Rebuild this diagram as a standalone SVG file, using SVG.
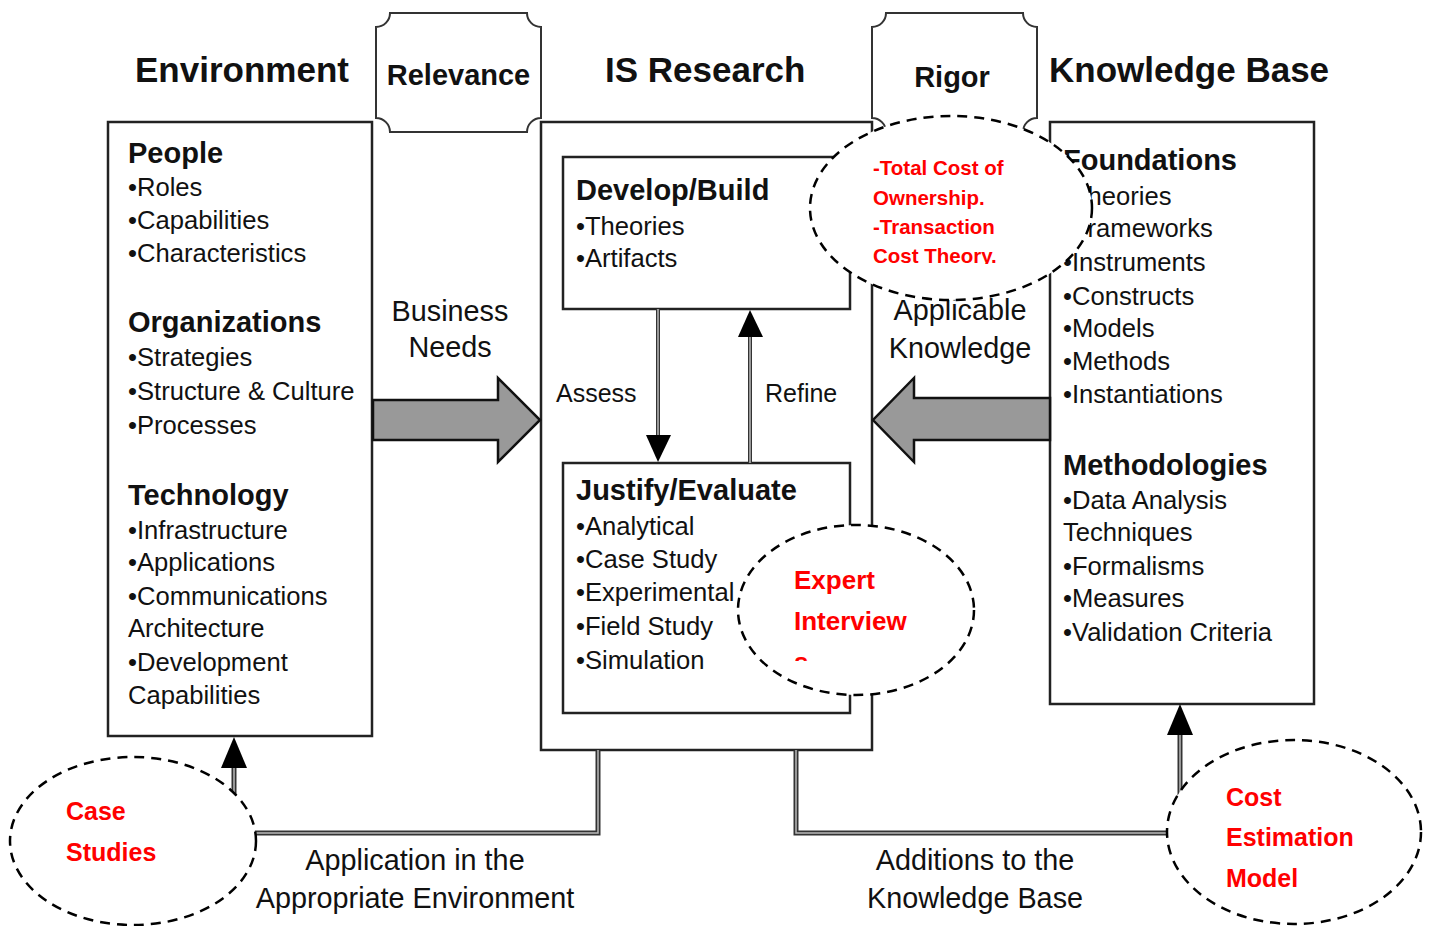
<svg xmlns="http://www.w3.org/2000/svg" width="1429" height="926" viewBox="0 0 1429 926">
<style>
text{font-family:"Liberation Sans",Arial,sans-serif;fill:#111}
.h1{font-size:35px;font-weight:bold}
.h2{font-size:29px;font-weight:bold}
.it{font-size:25.6px}
.lb{font-size:28.8px}
.lbs{font-size:25px}
.box{fill:#fff;stroke:#222;stroke-width:2.5}
.tag{fill:#fff;stroke:#333;stroke-width:2}
.big{fill:#999;stroke:#111;stroke-width:2.5;stroke-linejoin:miter}
.dbl{fill:none;stroke:#333;stroke-width:5}
.dbli{fill:none;stroke:#bbb;stroke-width:1.5}
.head{fill:#000}
.ell{fill:#fff;stroke:#000;stroke-width:2.5;stroke-dasharray:10 7}
.red{fill:#f00;font-weight:bold;font-family:"Liberation Sans",Arial,sans-serif}
</style>
<defs>
<clipPath id="c1"><rect x="860" y="140" width="200" height="124"/></clipPath>
<clipPath id="c2"><rect x="780" y="550" width="180" height="111"/></clipPath>
</defs>
<rect width="1429" height="926" fill="#fff"/>

<g id="headers">
<text class="h1" x="135" y="82">Environment</text>
<text class="h1" x="605" y="82">IS Research</text>
<text class="h1" x="1049" y="82">Knowledge Base</text>
</g>

<g id="relevance">
<path class="tag" d="M390,13 H527 A14,14 0 0 0 541,27 V118 A14,14 0 0 0 527,132 H390 A14,14 0 0 0 376,118 V27 A14,14 0 0 0 390,13 Z"/>
<text class="h2" x="458.5" y="85" text-anchor="middle">Relevance</text>
</g>
<g id="rigor">
<path class="tag" d="M886,13 H1023 A14,14 0 0 0 1037,27 V118 A14,14 0 0 0 1023,132 H886 A14,14 0 0 0 872,118 V27 A14,14 0 0 0 886,13 Z"/>
<text class="h2" x="952" y="87" text-anchor="middle">Rigor</text>
</g>

<g id="environment">
<rect class="box" x="108" y="122" width="264" height="614"/>
<text class="h2" x="128" y="163">People</text>
<text class="it" x="128" y="196">•Roles</text>
<text class="it" x="128" y="229">•Capabilities</text>
<text class="it" x="128" y="262">•Characteristics</text>
<text class="h2" x="128" y="332">Organizations</text>
<text class="it" x="128" y="366">•Strategies</text>
<text class="it" x="128" y="400">•Structure &amp; Culture</text>
<text class="it" x="128" y="434">•Processes</text>
<text class="h2" x="128" y="505">Technology</text>
<text class="it" x="128" y="539">•Infrastructure</text>
<text class="it" x="128" y="571">•Applications</text>
<text class="it" x="128" y="605">•Communications</text>
<text class="it" x="128" y="637">Architecture</text>
<text class="it" x="128" y="671">•Development</text>
<text class="it" x="128" y="704">Capabilities</text>
</g>

<g id="is-research">
<rect class="box" x="541" y="122" width="331" height="628"/>
</g>
<g id="develop-build">
<rect class="box" x="563" y="157" width="287" height="152"/>
<text class="h2" x="576" y="200">Develop/Build</text>
<text class="it" x="576" y="235">•Theories</text>
<text class="it" x="576" y="267">•Artifacts</text>
</g>
<g id="justify-evaluate">
<rect class="box" x="563" y="463" width="287" height="250"/>
<text class="h2" x="576" y="500">Justify/Evaluate</text>
<text class="it" x="576" y="535">•Analytical</text>
<text class="it" x="576" y="568">•Case Study</text>
<text class="it" x="576" y="601">•Experimental</text>
<text class="it" x="576" y="635">•Field Study</text>
<text class="it" x="576" y="669">•Simulation</text>
</g>

<g id="knowledge-base">
<rect class="box" x="1050" y="122" width="264" height="582"/>
<text class="h2" x="1063" y="170">Foundations</text>
<text class="it" x="1063" y="205">•Theories</text>
<text class="it" x="1063" y="237">•Frameworks</text>
<text class="it" x="1063" y="271">•Instruments</text>
<text class="it" x="1063" y="305">•Constructs</text>
<text class="it" x="1063" y="337">•Models</text>
<text class="it" x="1063" y="370">•Methods</text>
<text class="it" x="1063" y="403">•Instantiations</text>
<text class="h2" x="1063" y="475">Methodologies</text>
<text class="it" x="1063" y="509">•Data Analysis</text>
<text class="it" x="1063" y="541">Techniques</text>
<text class="it" x="1063" y="575">•Formalisms</text>
<text class="it" x="1063" y="607">•Measures</text>
<text class="it" x="1063" y="641">•Validation Criteria</text>
</g>

<g id="connectors">
<path class="big" d="M373,400 H498 V378 L540,420 L498,462 V440 H373 Z"/>
<path class="big" d="M1050,398 H914 V378 L873,420 L914,462 V440 H1050 Z"/>
<line class="dbl" x1="658" y1="309" x2="658" y2="437" style="stroke-width:4"/>
<line class="dbli" x1="658" y1="309" x2="658" y2="437"/>
<polygon class="head" points="646,435 671,435 658,462"/>
<line class="dbl" x1="750" y1="336" x2="750" y2="463" style="stroke-width:4"/>
<line class="dbli" x1="750" y1="336" x2="750" y2="463"/>
<polygon class="head" points="738,337 763,337 750,310"/>
<path class="dbl" d="M598,750 V833 H234 V765"/>
<path class="dbli" d="M598,750 V833 H234 V765"/>
<polygon class="head" points="221,768 247,768 234,737"/>
<path class="dbl" d="M796,750 V833 H1180 V732"/>
<path class="dbli" d="M796,750 V833 H1180 V732"/>
<polygon class="head" points="1167,735 1193,735 1180,704"/>
<text class="lb" x="450" y="321" text-anchor="middle">Business</text>
<text class="lb" x="450" y="357" text-anchor="middle">Needs</text>
<text class="lb" x="960" y="320" text-anchor="middle">Applicable</text>
<text class="lb" x="960" y="358" text-anchor="middle">Knowledge</text>
<text class="lbs" x="556" y="402">Assess</text>
<text class="lbs" x="765" y="402">Refine</text>
<text class="lb" x="415" y="870" text-anchor="middle">Application in the</text>
<text class="lb" x="415" y="908" text-anchor="middle">Appropriate Environment</text>
<text class="lb" x="975" y="870" text-anchor="middle">Additions to the</text>
<text class="lb" x="975" y="908" text-anchor="middle">Knowledge Base</text>
</g>

<g id="note-cost-theories">
<ellipse class="ell" cx="951" cy="208" rx="141" ry="92"/>
<g clip-path="url(#c1)">
<text class="red" font-size="20.5" x="873" y="175">-Total Cost of</text>
<text class="red" font-size="20.5" x="873" y="205">Ownership.</text>
<text class="red" font-size="20.5" x="873" y="234">-Transaction</text>
<text class="red" font-size="20.5" x="873" y="263">Cost Theory.</text>
</g>
</g>
<g id="note-expert">
<ellipse class="ell" cx="856" cy="610" rx="118" ry="85"/>
<g clip-path="url(#c2)">
<text class="red" font-size="26" x="794" y="589">Expert</text>
<text class="red" font-size="26" x="794" y="630">Interview</text>
<text class="red" font-size="26" x="794" y="671">s</text>
</g>
</g>
<g id="note-case">
<ellipse class="ell" cx="133" cy="841" rx="123" ry="84"/>
<text class="red" font-size="25" x="66" y="820">Case</text>
<text class="red" font-size="25" x="66" y="861">Studies</text>
</g>
<g id="note-model">
<ellipse class="ell" cx="1294" cy="832" rx="127" ry="92"/>
<text class="red" font-size="25" x="1226" y="806">Cost</text>
<text class="red" font-size="25" x="1226" y="846">Estimation</text>
<text class="red" font-size="25" x="1226" y="887">Model</text>
</g>
</svg>
